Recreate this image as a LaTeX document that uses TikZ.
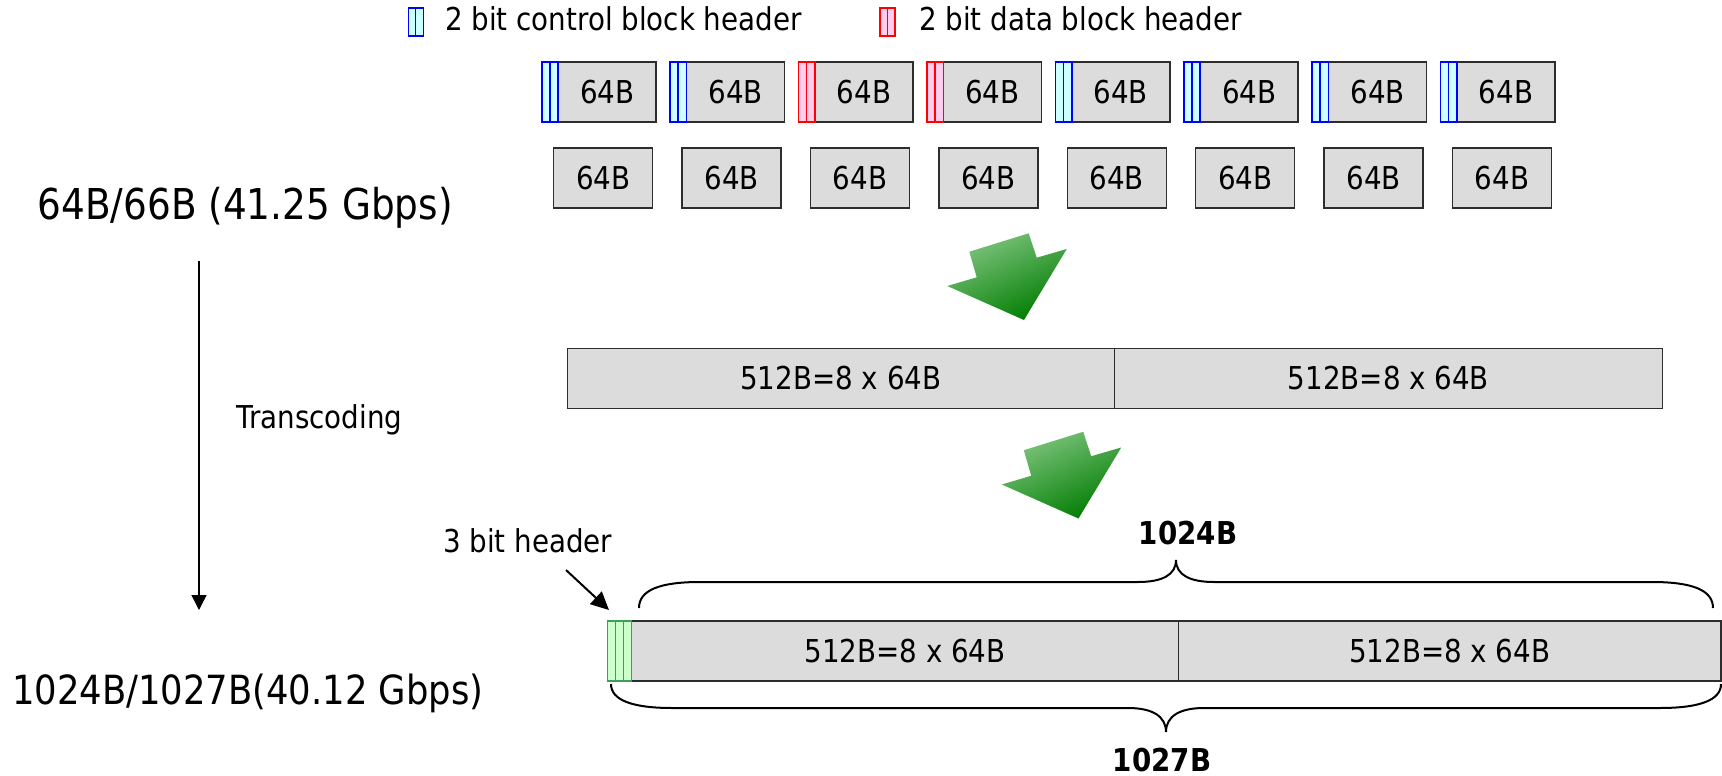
\documentclass[tikz,border=0pt]{standalone}
\usepackage{fontspec}
\setmainfont{DejaVu Sans}[FakeStretch=0.88]
\usetikzlibrary{arrows.meta,calc}
\definecolor{boxgrey}{RGB}{220,220,220}
\definecolor{boxline}{RGB}{45,45,45}
\definecolor{cyanfill}{RGB}{204,255,255}
\definecolor{pinkfill}{RGB}{255,204,238}
\definecolor{greenfill}{RGB}{204,255,204}
\definecolor{greenline}{RGB}{60,160,90}
\definecolor{arrowlight}{RGB}{128,198,128}
\definecolor{arrowdark}{RGB}{0,124,0}
\begin{document}
\begin{tikzpicture}[x=1pt,y=-1pt,
  txt/.style={inner sep=0pt, font=\fontsize{31.5}{38}\selectfont},
  bigtxt/.style={inner sep=0pt, font=\fontsize{42.5}{50}\selectfont},
  boldtxt/.style={inner sep=0pt, font=\fontsize{31.5}{38}\selectfont\bfseries},
  greybox/.style={draw=boxline, fill=boxgrey, line width=1.5pt, inner sep=0pt, minimum height=60pt, font=\fontsize{31.5}{38}\selectfont},
  bluehdr/.style={draw=blue, fill=cyanfill, line width=1.6pt},
  redhdr/.style={draw=red, fill=pinkfill, line width=1.6pt},
  greenhdr/.style={draw=greenline, fill=greenfill, line width=1.5pt},
  bracestyle/.style={draw=black, line width=2pt},
  conn/.style={draw=black, line width=1.5pt},
  ]
\useasboundingbox[fill=white] (0,0) rectangle (1722,776);

% legend
\draw[bluehdr, line width=1.2pt] (408.3,8) rectangle (415.8,36);
\draw[bluehdr, line width=1.2pt] (415.8,8) rectangle (423.3,36);
\node[txt, anchor=base west] (legc) at (445,31) {2 bit control block header};
\draw[redhdr, line width=1.2pt] (880,8) rectangle (887.5,36);
\draw[redhdr, line width=1.2pt] (887.5,8) rectangle (895,36);
\node[txt, anchor=base west] (legd) at (919,31) {2 bit data block header};

% row 1
\foreach \i/\hs in {0/bluehdr,1/bluehdr,2/redhdr,3/redhdr,4/bluehdr,5/bluehdr,6/bluehdr,7/bluehdr} {
  \pgfmathsetmacro{\xo}{541.7+128.4*\i}
  \node[greybox, minimum width=98pt] (ra\i) at (\xo+65.5,92) {64B};
  \draw[\hs] (\xo,62) rectangle ++(8,60);
  \draw[\hs] (\xo+8,62) rectangle ++(8.5,60);
}
% row 2
\foreach \i in {0,...,7} {
  \node[greybox, minimum width=99pt] (rb\i) at (603.2+128.4*\i,178) {64B};
}

% green arrows
\shade[top color=arrowlight, bottom color=arrowdark, shading angle=25]
  (969.3,251.7) -- (1028.7,233.3) -- (1036.7,257.7) -- (1066.7,249) -- (1024,320) -- (947.3,286) -- (976.7,277.3) -- cycle;
\begin{scope}[shift={(54.5,198.5)}]
\shade[top color=arrowlight, bottom color=arrowdark, shading angle=25]
  (969.3,251.7) -- (1028.7,233.3) -- (1036.7,257.7) -- (1066.7,249) -- (1024,320) -- (947.3,286) -- (976.7,277.3) -- cycle;
\end{scope}

% middle bar
\node[greybox, minimum width=547pt] (mid1) at (840.8,378.3) {512B=8 x 64B};
\node[greybox, minimum width=548.4pt] (mid2) at (1388.5,378.3) {512B=8 x 64B};

% bottom bar
\node[greybox, minimum width=546.8pt] (bot1) at (905.1,651) {512B=8 x 64B};
\node[greybox, minimum width=542.5pt] (bot2) at (1449.75,651) {512B=8 x 64B};
\foreach \k in {0,1,2} {
  \draw[greenhdr] (607.3+8.13*\k,621) rectangle ++(8.13,60);
}
\coordinate (hdrtip) at (609,610);

% braces
\draw[bracestyle] (639,608) .. controls (639,590) and (660,582) .. (700,582) -- (1138,582)
  .. controls (1162,582) and (1176,575) .. (1176,560)
  .. controls (1176,575) and (1190,582) .. (1214,582) -- (1652,582)
  .. controls (1692,582) and (1713,590) .. (1713,608);
\draw[bracestyle] (611,684) .. controls (611,700) and (632,708) .. (672,708) -- (1128,708)
  .. controls (1152,708) and (1166,716) .. (1166,732)
  .. controls (1166,716) and (1180,708) .. (1204,708) -- (1660,708)
  .. controls (1700,708) and (1721,700) .. (1721,684);
\node[boldtxt, anchor=base] (l1024) at (1188,544) {1024B};
\node[boldtxt, anchor=base] (l1027) at (1162,771) {1027B};

% header label
\node[txt, anchor=base west] (hdrlbl) at (443,552) {3 bit header};
\coordinate (hdrfrom) at (566,570);
\draw[conn, line width=2pt, -{Triangle[width=17pt,length=18pt]}] (hdrfrom) -- (hdrtip);

% left side
\node[bigtxt, anchor=base west] (enc1) at (37.5,219) {64B/66B (41.25 Gbps)};
\node[txt, anchor=base west] (trans) at (236,428) {Transcoding};
\node[bigtxt, anchor=base west, font=\fontsize{40.2}{48}\selectfont] (enc2) at (12,704) {1024B/1027B(40.12 Gbps)};
\coordinate (vtop) at (199,261);
\coordinate (vbot) at (199,610);
\draw[conn, -{Triangle[width=15pt,length=15pt]}] (vtop) -- (vbot);
\end{tikzpicture}
\end{document}
